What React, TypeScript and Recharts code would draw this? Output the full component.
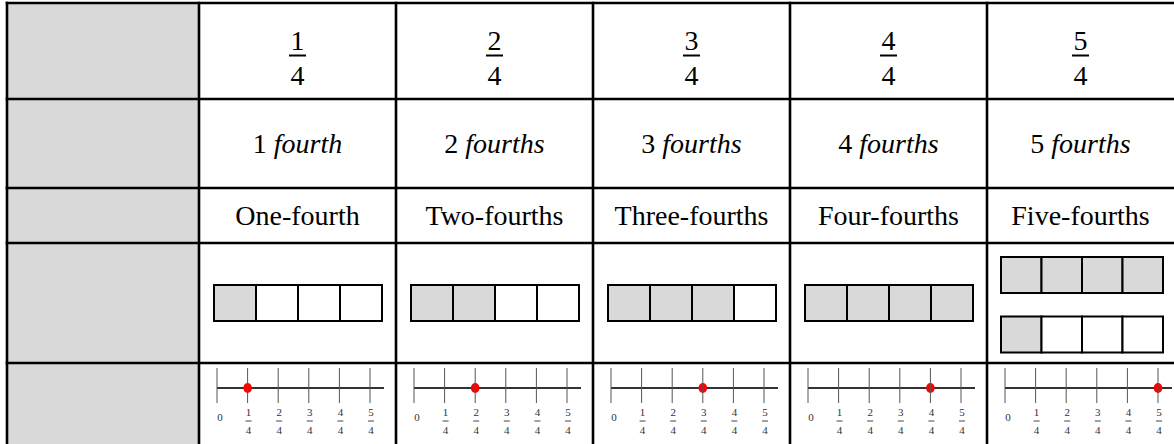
import React from "react";
import { BarChart, Bar, Cell, XAxis, YAxis, ScatterChart, Scatter } from "recharts";

// table content
const numerators = [1, 2, 3, 4, 5];
const denominator = 4;
const unitWords = ["fourth", "fourths", "fourths", "fourths", "fourths"];
const nameWords = ["One-fourth", "Two-fourths", "Three-fourths", "Four-fourths", "Five-fourths"];
// shaded parts per whole (one bar per whole)
const shadedParts = [[1], [2], [3], [4], [4, 1]];
const partKeys = ["p1", "p2", "p3", "p4"];
// number line ticks (in wholes)
const lineTicks = [0, 0.25, 0.5, 0.75, 1, 1.25];

// layout
const colEdges = [199, 396, 593, 790, 987, 1174];
const rowEdges = [3, 99, 188, 243, 363];
const GRAY = "#d9d9d9";
const SERIF = '"Liberation Serif", "Times New Roman", serif';

const NL_TOP = 25;
const NL_AXIS_Y = 45;
const NL_WIDTH = 187;

const LineTick = (props: any) => {
  const { x, payload } = props;
  const n = Math.round(payload.value * denominator);
  const y = NL_AXIS_Y;
  return (
    <g>
      <line x1={x} x2={x} y1={y - 20} y2={y + 15} stroke="#555" strokeWidth={1} />
      {n === 0 ? (
        <text x={x + 3} y={y + 33} textAnchor="middle" fontSize={11} fill="#333" fontFamily={SERIF}>
          0
        </text>
      ) : (
        <g>
          <text x={x + 1} y={y + 28} textAnchor="middle" fontSize={11} fill="#333" fontFamily={SERIF}>
            {n}
          </text>
          <line x1={x - 2} x2={x + 4} y1={y + 33} y2={y + 33} stroke="#444" strokeWidth={1} />
          <text x={x + 1} y={y + 45.5} textAnchor="middle" fontSize={11} fill="#333" fontFamily={SERIF}>
            {denominator}
          </text>
        </g>
      )}
    </g>
  );
};

const RedDot = (props: any) => <ellipse cx={props.cx} cy={props.cy} rx={4.3} ry={5} fill="#ff0000" />;

const NumberLine = ({ value, left }: { value: number; left: number }) => (
  <div style={{ position: "absolute", left: left - 10, top: 388 - NL_AXIS_Y }}>
    <ScatterChart width={NL_WIDTH} height={100} margin={{ top: NL_TOP, right: 10, bottom: 0, left: 10 }}>
      <XAxis
        type="number"
        dataKey="x"
        domain={[0, 1.25]}
        ticks={lineTicks}
        interval={0}
        padding={{ left: 0, right: 14 }}
        height={55}
        tickLine={false}
        axisLine={{ stroke: "#333", strokeWidth: 2 }}
        tick={LineTick}
      />
      <YAxis type="number" dataKey="y" domain={[0, 1]} hide />
      <Scatter data={[{ x: value, y: 0 }]} shape={RedDot} isAnimationActive={false} />
    </ScatterChart>
  </div>
);

const PartsBar = ({ shaded, left, top, width, height, barSize }: any) => {
  const rows = shaded.map((s: number, i: number) => ({ row: `w${i}`, s, p1: 1, p2: 1, p3: 1, p4: 1 }));
  return (
    <div style={{ position: "absolute", left: left - 2, top: top - 2 }}>
      <BarChart
        layout="vertical"
        data={rows}
        width={width + 4}
        height={height + 4}
        margin={{ top: 2, right: 2, bottom: 2, left: 2 }}
        barCategoryGap={0}
        barSize={barSize}
      >
        <XAxis type="number" domain={[0, 4]} hide />
        <YAxis type="category" dataKey="row" hide />
        {partKeys.map((k, i) => (
          <Bar key={k} dataKey={k} stackId="w" stroke="#000" strokeWidth={2} isAnimationActive={false}>
            {rows.map((r: any, j: number) => (
              <Cell key={j} fill={i < r.s ? GRAY : "#fff"} />
            ))}
          </Bar>
        ))}
      </BarChart>
    </div>
  );
};

const App: React.FC = () => {
  const centers = numerators.map((_, i) => (colEdges[i] + colEdges[i + 1]) / 2);
  return (
    <div
      style={{
        position: "absolute",
        left: 0,
        top: 0,
        width: 1174,
        height: 444,
        overflow: "hidden",
        background: "#fff",
      }}
    >
      <svg width={1174} height={444} style={{ position: "absolute", left: 0, top: 0 }}>
        <rect x={7} y={3} width={192} height={441} fill={GRAY} />
        {rowEdges.map((y) => (
          <line key={`r${y}`} x1={5.7} x2={1174} y1={y} y2={y} stroke="#000" strokeWidth={2.6} />
        ))}
        {[7, ...colEdges.slice(0, 5)].map((x) => (
          <line key={`c${x}`} x1={x} x2={x} y1={1.7} y2={444} stroke="#000" strokeWidth={2.6} />
        ))}
        {numerators.map((n, i) => (
          <g key={n} fill="#000">
            <text x={centers[i]} y={50} textAnchor="middle" fontSize={28} fontFamily={SERIF}>
              {n}
            </text>
            <line x1={centers[i] - 8.5} x2={centers[i] + 8.5} y1={55.5} y2={55.5} stroke="#000" strokeWidth={2} />
            <text x={centers[i]} y={85} textAnchor="middle" fontSize={28} fontFamily={SERIF}>
              {denominator}
            </text>
            <text x={centers[i]} y={153} textAnchor="middle" fontSize={28} fontFamily={SERIF} style={{ whiteSpace: "pre" }}>
              <tspan fontFamily={SERIF}>{`${n} `}</tspan>
              <tspan fontFamily={SERIF} fontStyle="italic">
                {unitWords[i]}
              </tspan>
            </text>
            <text x={centers[i]} y={225} textAnchor="middle" fontSize={28} fontFamily={SERIF}>
              {nameWords[i]}
            </text>
          </g>
        ))}
      </svg>
      {shadedParts.map((parts, i) =>
        parts.length === 1 ? (
          <PartsBar key={i} shaded={parts} left={colEdges[i] + 15} top={285} width={168} height={36} />
        ) : (
          <PartsBar key={i} shaded={parts} left={colEdges[i] + 14} top={244.5} width={162} height={119} barSize={36} />
        )
      )}
      {numerators.map((n, i) => (
        <NumberLine key={n} value={n / denominator} left={colEdges[i] + 18} />
      ))}
    </div>
  );
};

export default App;
